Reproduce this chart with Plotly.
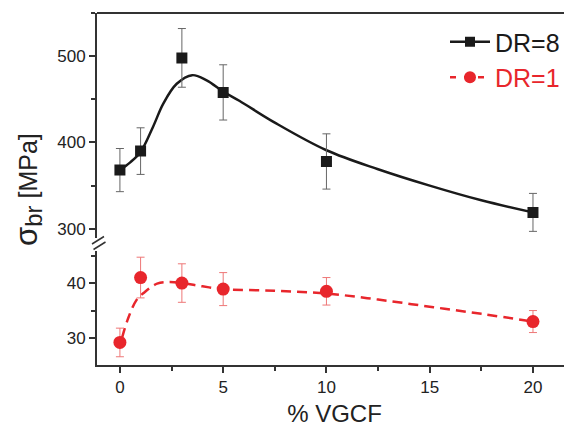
import plotly.graph_objects as go

# ---- data ----
vgcf = [0, 1, 3, 5, 10, 20]
dr8_val = [368, 390, 498, 458, 378, 319]
dr8_err = [25, 27, 34, 32, 32, 22]
dr1_val = [29.2, 41.0, 40.0, 38.9, 38.5, 33.0]
dr1_err = [2.6, 3.7, 3.5, 3.0, 2.5, 2.0]

# smooth fitted curves
fit8_x = [0, 0.5, 1, 1.6, 2.1, 2.75, 3.5, 4.2, 5, 5.8, 7.5, 10, 12.5, 15, 17.5, 20]
fit8_y = [368, 377, 389, 418, 445, 468, 478, 472, 459, 448, 423, 391, 369, 350, 333, 319]
fit1_x = [0.1, 0.4, 0.8, 1.15, 1.8, 2.4, 3, 4, 5, 7.5, 10, 12.5, 15, 17.5, 20]
fit1_y = [30.0, 33.6, 36.9, 38.2, 39.9, 40.2, 40.0, 39.4, 38.9, 38.6, 38.1, 37.0, 35.7, 34.4, 33.0]

x_ticks = [0, 5, 10, 15, 20]
upper_ticks = [300, 400, 500]
lower_ticks = [30, 40]

BLACK = "#1a1a1a"
RED = "#e8262c"
AX = "#333333"
FONT = "Liberation Sans, Arial, sans-serif"

# page offset from default body margin
OFF = 8
W, H = 572 - OFF, 427 - OFF
ML, MR, MT, MB = 97 - OFF, 0, 13 - OFF, 62
PW, PH = W - ML - MR, H - MT - MB

fig = go.Figure()

fig.add_trace(go.Scatter(x=fit8_x, y=fit8_y, mode="lines", line=dict(color=BLACK, width=2.5, shape="spline", smoothing=1.0),
                         xaxis="x", yaxis="y", showlegend=False, hoverinfo="skip"))
fig.add_trace(go.Scatter(x=vgcf, y=dr8_val, mode="markers",
                         marker=dict(symbol="square", size=11, color=BLACK),
                         error_y=dict(type="data", array=dr8_err, color="#666666", thickness=1, width=4),
                         xaxis="x", yaxis="y", showlegend=False))
fig.add_trace(go.Scatter(x=fit1_x, y=fit1_y, mode="lines", line=dict(color=RED, width=2.5, dash="10px,6px", shape="spline", smoothing=1.0),
                         xaxis="x", yaxis="y2", showlegend=False, hoverinfo="skip"))
fig.add_trace(go.Scatter(x=vgcf, y=dr1_val, mode="markers",
                         marker=dict(symbol="circle", size=13, color=RED),
                         error_y=dict(type="data", array=dr1_err, color="#ee7777", thickness=1, width=4),
                         xaxis="x", yaxis="y2", showlegend=False))
fig.add_trace(go.Scatter(x=[None], y=[None], mode="lines+markers", name="DR=8",
                         line=dict(color=BLACK, width=2.5), marker=dict(symbol="square", size=10, color=BLACK),
                         xaxis="x", yaxis="y"))
fig.add_trace(go.Scatter(x=[None], y=[None], mode="lines+markers", name="<span style='color:%s'>DR=1</span>" % RED,
                         line=dict(color=RED, width=2.5, dash="6px,8px"), marker=dict(symbol="circle", size=12, color=RED),
                         xaxis="x", yaxis="y"))

LOW_TOP = 0.325
UP_BOT = 0.36

axis_common = dict(showline=True, linecolor=AX, linewidth=2, ticks="outside", tickcolor=AX, tickwidth=1.5,
                   ticklen=6, showgrid=False, zeroline=False, automargin=False,
                   tickfont=dict(family=FONT, size=17, color="#222"))


def px2paper(px, py):
    # reference-page pixel -> paper coords
    return (px - OFF - ML) / PW, 1 - (py - OFF - MT) / PH


lx, ly = px2paper(445, 19)

fig.update_layout(
    width=W, height=H,
    margin=dict(l=ML, r=MR, t=MT, b=MB, autoexpand=False),
    paper_bgcolor="white", plot_bgcolor="white",
    font=dict(family=FONT, color="#222"),
    xaxis=dict(range=[-1.11, 21.89], tickvals=x_ticks, anchor="y2", domain=[0, 1],
               minor=dict(ticks="outside", dtick=2.5, tick0=0, ticklen=4, tickcolor=AX, tickwidth=1.5),
               title=dict(text="% VGCF", font=dict(family=FONT, size=24, color="#222"), standoff=12),
               **axis_common),
    yaxis=dict(range=[289, 550], domain=[UP_BOT, 1], anchor="x", tickvals=upper_ticks,
               minor=dict(ticks="outside", tickvals=[350, 450, 550], ticklen=4, tickcolor=AX, tickwidth=1.5),
               **axis_common),
    yaxis2=dict(range=[25.1, 45.9], domain=[0, LOW_TOP], anchor="x", tickvals=lower_ticks,
                minor=dict(ticks="outside", tickvals=[35, 45], ticklen=4, tickcolor=AX, tickwidth=1.5),
                **axis_common),
    legend=dict(x=lx, xanchor="left", y=ly, yanchor="top", bgcolor="rgba(0,0,0,0)",
                font=dict(family=FONT, size=25, color=BLACK), tracegroupgap=0, itemwidth=40),
    showlegend=True,
)

fig.add_shape(type="line", xref="paper", yref="paper", x0=0, x1=1, y0=1, y1=1,
              line=dict(color=AX, width=2))

for (a, b) in [((92, 244), (104, 236.5)), ((93.5, 249.5), (105.5, 242))]:
    x0, y0 = px2paper(*a)
    x1, y1 = px2paper(*b)
    fig.add_shape(type="line", xref="paper", yref="paper", x0=x0, y0=y0, x1=x1, y1=y1,
                  line=dict(color=AX, width=1.5))

tx, ty = px2paper(28, 190)
fig.add_annotation(text="<span style='font-size:31px'>σ</span><sub><span style='font-size:24px'>br</span></sub> [MPa]",
                   xref="paper", yref="paper", x=tx, y=ty, textangle=-90, showarrow=False,
                   xanchor="center", yanchor="middle",
                   font=dict(family=FONT, size=25, color="#222"))

fig.write_html("out.html")
